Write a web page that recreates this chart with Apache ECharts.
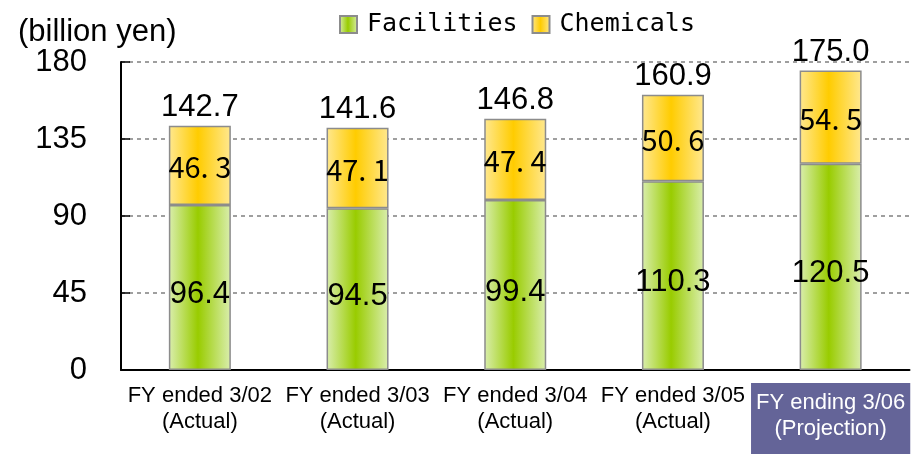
<!DOCTYPE html>
<html>
<head>
<meta charset="utf-8">
<script src="https://cdn.jsdelivr.net/npm/echarts@6/dist/echarts.min.js"></script>
<style>
  html, body { margin: 0; padding: 0; background: #fff; }
  #chart { width: 913px; height: 456px; }
</style>
</head>
<body>
<div id="chart"></div>
<script>
// 数据
const categories = [
    'FY ended 3/02\n(Actual)',
    'FY ended 3/03\n(Actual)',
    'FY ended 3/04\n(Actual)',
    'FY ended 3/05\n(Actual)',
    'FY ending 3/06\n(Projection)'
];
const facilities = [96.4, 94.5, 99.4, 110.3, 120.5];
const chemicals = [46.3, 47.1, 47.4, 50.6, 54.5];
const totals = [142.7, 141.6, 146.8, 160.9, 175.0];
const yTicks = [0, 45, 90, 135, 180];

// 渐变色
function stripe(edge, mid) {
    return new echarts.graphic.LinearGradient(0, 0, 1, 0, [
        { offset: 0, color: edge },
        { offset: 0.47, color: mid },
        { offset: 1, color: edge }
    ]);
}

const chart = echarts.init(document.getElementById('chart'));

// 最后一个类别带背景框
const xData = categories.map((c, i) => {
    if (i === categories.length - 1) {
        return {
            value: c,
            textStyle: {
                color: '#ffffff',
                backgroundColor: '#646498',
                padding: [7, 5, 12, 5]
            }
        };
    }
    return c;
});

const option = {
    animation: false,
    title: {
        text: '(billion yen)',
        left: 13,
        top: 12,
        textStyle: {
            fontFamily: 'Liberation Sans',
            fontSize: 31,
            fontWeight: 'normal',
            color: '#000'
        }
    },
    legend: {
        data: ['Facilities', 'Chemicals'],
        icon: 'rect',
        left: 334,
        top: 7,
        itemWidth: 17,
        itemHeight: 17,
        itemGap: 14,
        textStyle: {
            fontFamily: 'DejaVu Sans Mono',
            fontSize: 25,
            color: '#000',
            padding: [0, 0, 0, 5]
        }
    },
    grid: {
        left: 121,
        right: 1,
        top: 62,
        bottom: 86
    },
    xAxis: {
        type: 'category',
        data: xData,
        axisLine: { lineStyle: { color: '#000', width: 2 } },
        axisTick: { inside: true, length: 12, lineStyle: { color: '#000', width: 1.5 } },
        axisLabel: {
            fontFamily: 'Liberation Sans',
            fontSize: 22,
            lineHeight: 26,
            color: '#000',
            margin: 13,
            interval: 0
        }
    },
    yAxis: {
        type: 'value',
        min: yTicks[0],
        max: yTicks[yTicks.length - 1],
        interval: 45,
        axisLine: { show: true, lineStyle: { color: '#000', width: 2 } },
        axisTick: { show: true, inside: true, length: 9, lineStyle: { color: '#000', width: 1.5 } },
        axisLabel: {
            fontFamily: 'Liberation Sans',
            fontSize: 31,
            color: '#000',
            margin: 34
        },
        splitLine: {
            lineStyle: { color: '#808080', type: [4, 4], width: 1.5 }
        }
    },
    series: [
        {
            name: 'Facilities',
            type: 'bar',
            stack: 'total',
            barWidth: 62,
            data: facilities,
            itemStyle: {
                color: stripe('#daeeae', '#99cc00'),
                borderColor: '#8c8c8c',
                borderWidth: 1.5
            },
            label: {
                show: true,
                position: 'inside',
                offset: [0, 7],
                fontFamily: 'Liberation Sans',
                fontSize: 31,
                color: '#000',
                formatter: p => p.value.toFixed(1)
            }
        },
        {
            name: 'Chemicals',
            type: 'bar',
            stack: 'total',
            barWidth: 62,
            data: chemicals,
            itemStyle: {
                color: stripe('#ffe890', '#ffcc00'),
                borderColor: '#8c8c8c',
                borderWidth: 1.5
            },
            label: {
                show: true,
                position: 'inside',
                offset: [0, 2],
                fontFamily: 'Noto Sans CJK JP',
                fontSize: 29,
                color: '#000',
                formatter: p => p.value.toFixed(1).replace('.', '. ')
            }
        },
        {
            // 合计标签
            name: 'Total',
            type: 'bar',
            barWidth: 62,
            barGap: '-100%',
            data: totals,
            silent: true,
            z: 1,
            itemStyle: { color: 'rgba(0,0,0,0)' },
            label: {
                show: true,
                position: 'top',
                distance: 3,
                fontFamily: 'Liberation Sans',
                fontSize: 31,
                color: '#000',
                formatter: p => p.value.toFixed(1)
            }
        }
    ]
};

chart.setOption(option);
</script>
</body>
</html>
